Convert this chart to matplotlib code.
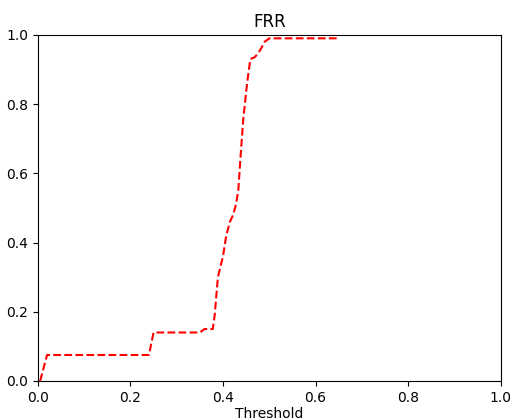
import matplotlib
matplotlib.use("Agg")
import matplotlib.pyplot as plt

# FRR curve
thresholds = [0.005, 0.02, 0.24, 0.25, 0.35, 0.36, 0.378, 0.382, 0.389,
              0.40, 0.407, 0.415, 0.422, 0.428, 0.433, 0.438, 0.444, 0.452,
              0.459, 0.468, 0.475, 0.482, 0.49, 0.50, 0.55, 0.60, 0.649]
frr = [0.0, 0.075, 0.075, 0.14, 0.14, 0.15, 0.15, 0.19, 0.30,
       0.36, 0.42, 0.46, 0.48, 0.51, 0.55, 0.65, 0.76, 0.86,
       0.93, 0.935, 0.945, 0.96, 0.98, 0.99, 0.99, 0.99, 0.99]

fig, ax = plt.subplots(figsize=(5.11, 4.2), dpi=100)
ax.plot(thresholds, frr, "r--")
ax.set_xlim(0, 1)
ax.set_ylim(0, 1)
ax.set_title("FRR")
ax.set_xlabel("Threshold", labelpad=1.5)
fig.subplots_adjust(left=0.074, right=0.98, top=0.917, bottom=0.093)
fig.savefig("out.png", dpi=100)
